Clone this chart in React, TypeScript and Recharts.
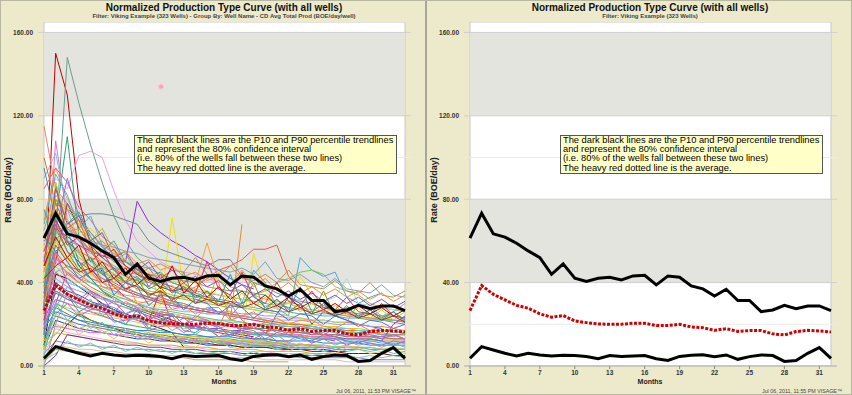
import React from "react";
import { LineChart, Line, XAxis, YAxis, ReferenceArea, ReferenceLine, ReferenceDot } from "recharts";

const FONT = "'Liberation Sans', Arial, sans-serif";
const _ = null;

// months on production (normalized)
const months = Array.from({ length: 32 }, (_v, i) => i + 1);
const monthTicks = [1, 4, 7, 10, 13, 16, 19, 22, 25, 28, 31];
const rateTicks = [0, 40, 80, 120, 160];

// percentile trendlines + average (BOE/day)
const p10Rate = [61.3, 73.3, 63.4, 61.8, 58.9, 55.2, 52, 44, 49, 42.1, 40.6, 42.1, 42.6, 41.3, 43.2, 43.5, 38.9, 43.2, 42.6, 38.4, 37, 33.6, 36.8, 31.4, 31.4, 26.1, 26.9, 29.1, 27.5, 28.8, 28.8, 26.6];
const p90Rate = [3.7, 9.3, 7.7, 6.1, 4.8, 6.1, 5.3, 4.8, 5.1, 5, 4.6, 3.5, 5, 4.5, 4.8, 5, 3.5, 2.7, 4.6, 5.1, 5.4, 4.5, 5.3, 3.2, 4.5, 5.3, 5, 2.2, 2.6, 6.1, 8.8, 3.7];
const avgRate = [26.6, 38.6, 34.4, 31.7, 29.1, 27.7, 25, 23.4, 24.2, 21.6, 20.8, 20.2, 20, 20, 20.5, 20.5, 19.4, 19.4, 20, 18.7, 18.4, 17.1, 17.9, 16.6, 17, 17, 15.4, 14.9, 16.5, 17.1, 16.8, 16.3];

// individual wells (a sample of the 323), shorter histories simply stop
const wellsHigh: (number | null)[][] = [
  [28, 150, 130, 80, 58, 45, 38, 33, 30, 26, 24, 22, 20, 19, 18, 17, 16, 15, 14],
  [20, 62, 148, 126, 106, 88, 72, 60, 52, 47, 44, 42, 41, 40, 38, 37, 36, 36, 35, 34, 30, 28],
  [72, 90, 85, 101, 103, 100, 84, 70, 60, 55, 50, 47, 45, 44, 42, 40],
  [40, 70, 110, 62, 55, 48, 44, 40, 38, 35, 33, 31, 30, 28, 27, 26, 25, 24, 23, 22, 21, 20, 20, 19, 18],
  [60, 66, 62, 58, 55, 53, 51, 50, 79, 69, 64, 60, 57, 53, 50, 46, 42, 39, 37],
  [45, 58, 50, 44, 40, 38, 35, 33, 31, 30, 29, 71, 38, 42, 35, 30, 26, 14, 54, 36, 30, 30, 43, 34, 28, 26, 27, 25, 22, 24, 22, 21],
  [50, 64, 60, 55, 52, 50, 47, 45, 44, 42, 40, 38, 37, 36, 44, 40, 22, 68],
  [35, 52, 48, 46, 42, 40, 38, 36, 34, 33, 32, 30, 35, 38, 42, 46, 48, 51, 56, 56, 58, 43, 37, 32, 29, 27, 25, 24, 23, 22, 21, 20],
  [30, 45, 40, 38, 36, 33, 31, 30, 28, 27, 26, 25, 24, 23, 28, 26, 24, 30, 46, 40, 28, 24, 52, 46, 43, 45, 33, 30, 33, 35],
  [55, 78, 75, 72, 73, 73, 72, 70, 68, 60, 56, 54, 52, 50, 48, 51, 51, 43, 40, 38, 35, 33, 31, 30, 28, 27, 26, 25, 25, 24, 24, 23],
  [70, 95, 80, 70, 62, 55, 50, 47, 45, 44, 43, 42, 41, 40, 59, 41, 38, 36, 34, 32, 31, 30, 28, 27, 26, 25, 24, 23, 23, 22, 22, 21],
  [25, 108, 70, 55, 45, 40, 36, 33, 30, 28, 26, 25, 24, 22, 21, 20, 19, 18, 18, 17],
  [40, 55, 60, 52, 48, 45, 42, 40, 38, 36, 35, 33, 32, 31, 30, 29, 28, 30, 34, 36, 40, 42, 45, 46, 44, 38, 36, 34, 30, 28, 27, 26],
  [20, 35, 40, 38, 36, 34, 33, 32, 30, 29, 28, 28, 27, 26, 25, 25, 24, 24, 25, 26, 28, 30, 32, 30, 31, 33, 42, 30, 29, 28, 27, 27],
  [10, 44, 42, 38, 34, 30, 27, 24, 22, 20, 18, 16, 9],
  [30, 60, 52, 48, 44, 40, 38, 36, 34, 33, 31, 30, 28, 27, 26, 25, 24, 24, 23, 22, 21, 21, 20, 20, 19, 19, 18, 18, 17, 17, 17, 16],
  [15, 88, 60, 48, 42, 36, 32, 29, 27, 25, 23, 21, 20, 19, 18, 17, 16, 16, 15, 15, 14],
  [90, 102, 75, 60, 52, 46, 42, 38, 35, 33, 31, 29, 28, 27, 26, 25, 24, 23, 22, 21, 20, 20, 19, 18, 18, 17, 17, 16, 16, 15, 15, 15],
  [115, 85, 70, 60, 55, 50, 46, 43, 40, 38, 36, 34, 33, 32, 31, 30, 29, 28, 27, 26, 25, 24],
  [95, 70, 60, 54, 48, 44, 40, 37, 35, 33, 31, 30, 28, 27, 26, 25],
  [65, 85, 78, 70, 64, 58, 54, 50, 47, 44, 42, 40, 38, 36, 35, 34, 33, 32, 31, 30, 29, 28, 27, 26, 25, 25, 24, 24, 23, 23, 22, 22],
  [62, 72, 66, 60, 56, 52, 48, 45, 42, 40, 38, 36, 34, 33, 32, 31, 30, 29, 28, 27, 26, 26, 25, 25, 24, 24, 23, 23, 22, 22, 22, 21],
  [48, 80, 70, 62, 55, 48, 44, 40, 37, 35, 33, 31, 29, 28, 27, 26, 25, 24, 23, 22, 21, 20, 20, 19, 18, 18, 17, 17, 16, 16, 15, 15],
  [58, 72, 66, 62, 60, 58, 57, 55, 54, 52, 51, 50, 49, 48, 47, 46, 45, 47, 44, 50, 42, 41, 44, 40, 38, 42, 37, 36, 35, 39, 34, 33],
  [52, 68, 60, 58, 54, 55, 52, 50, 48, 47, 49, 46, 45, 52, 44, 43, 48, 42, 41, 44, 40, 46, 39, 38, 37, 41, 36, 35, 40, 34, 33, 36],
];

// strong early producers with short histories
const wellsEarly: (number | null)[][] = [
  [85, 95, 88, 76, 70, 62, 58, 50, 46, 44, 40, 38],
  [68, 92, 82, 66, 72, 58, 50, 54, 44, 40, 42, 36, 34, 33],
  [40, 82, 75, 68, 60, 66, 55, 48, 45, 41, 39, 37, 35, 34, 33, 31],
  [100, 78, 66, 70, 56, 52, 47, 43, 41, 38],
  [30, 65, 90, 72, 64, 57, 52, 48, 44, 47, 40, 38, 36, 35, 33, 32, 31, 30],
  [75, 60, 68, 74, 62, 55, 60, 50, 46, 43, 45, 40, 38],
  [55, 88, 70, 64, 66, 60, 56, 51, 49, 45, 43, 41, 39, 37, 36, 34, 33, 32, 30, 29, 28],
  [22, 50, 78, 66, 58, 52, 56, 48, 44, 41, 38, 36, 37, 34, 32, 31, 30],
];

const wellsLow: (number | null)[][] = [
  [25, 40, 36, 34, 31, 29, 27, 25, 23, 22, 21, 20, 19, 18, 18, 17, 17, 16, 16, 15, 25, 33, 30, 20, 26, 24, 22, 20, 19, 18],
  [20, 30, 45, 40, 36, 33, 30, 28, 26, 24, 22, 21, 20, 19, 18, 17, 17, 16, 16, 15, 15, 14, 14, 13, 13, 12],
  [35, 48, 42, 38, 35, 32, 30, 28, 27, 26, 25, 24, 23, 23, 22, 22, 21, 21, 20, 20, 20, 19, 19, 19, 18, 18, 18, 17, 17, 17, 16, 16],
  [12, 28, 25, 22, 20, 19, 18, 17, 16, 15, 15, 14, 14, 13, 13, 12, 12, 12, 11, 11, 11, 10, 10, 10],
  [18, 36, 32, 30, 28, 26, 25, 24, 22, 21, 20, 20, 19, 18, 18, 17, 17, 16, 16, 15, 15, 15, 14, 14, 14, 13, 13, 13, 12, 12, 12, 12],
  [8, 22, 20, 18, 17, 16, 15, 14, 13, 13, 12, 12, 11, 11, 10, 10, 10, 9, 9, 9, 9, 8, 8, 8, 8, 7, 7],
  [40, 50, 45, 42, 40, 38, 36, 34, 33, 32, 31, 30, 29, 28, 27, 26, 26, 25, 25, 24, 24, 23, 23, 22, 22, 21, 21, 30, 28, 24, 26, 30],
  [22, 30, 28, 26, 25, 24, 23, 22, 21, 20, 19, 19, 18, 18, 17, 17, 16, 16, 16, 15, 15, 15, 14, 14, 14, 13, 13, 13, 13, 12, 12, 12],
  [30, 40, 35, 32, 30, 28, 26, 24, 23, 22, 36, 20, 19, 18, 17, 16, 15, 14, 13, 13, 12],
  [10, 25, 30, 28, 26, 24, 22, 20, 19, 18, 17, 16, 15, 14, 14, 13, 13, 12, 12, 12, 11, 11, 10, 10, 10, 9, 9, 9, 8, 8, 8, 8],
  [5, 18, 16, 15, 14, 13, 12, 12, 11, 10, 10, 9, 9, 9, 8, 8, 8, 7, 7, 7, 6, 6, 6, 6, 5, 5, 5],
  [28, 75, 65, 50, 42, 36, 33, 30, 28, 27, 25, 24, 23, 22, 21, 20, 20, 19, 18, 18, 17, 17, 16, 16, 15, 15, 15, 14, 14, 14, 13, 13],
  [12, 20, 18, 26, 22, 20, 19, 18, 17, 16, 15, 15, 14, 14, 13, 13, 12, 12, 12, 11, 11, 11, 10, 10, 10, 9, 9, 9],
  [6, 12, 11, 10, 10, 9, 9, 8, 8, 8, 7, 7, 7, 6, 6, 6, 6, 5, 5, 5, 5, 5, 4, 4, 4, 4, 4, 4, 3, 3, 3, 3],
  [50, 62, 58, 54, 50, 47, 44, 42, 40, 38, 36, 34, 33, 32, 31, 30, 29, 28, 27, 26, 25, 24, 23, 22, 22, 21, 21, 20],
  [3, 12, 20, 25, 22, 20, 18, 16, 15, 14, 13, 12, 12, 11, 11, 10, 10, 9, 9, 9, 8, 8, 8, 7, 7, 7, 6, 6, 6, 6, 5, 5],
  [35, 45, 48, 44, 40, 37, 34, 32, 30, 28, 27, 26, 25, 24, 23, 22, 22, 21, 20, 20, 19, 19, 18, 18, 17, 17, 16, 16, 16, 15, 15, 15],
  [22, 35, 32, 30, 28, 26, 25, 24, 23, 22, 21, 20, 19, 19, 18, 18, 17, 17, 16, 16, 15, 15, 15, 14, 14, 14, 13, 13, 13, 12, 20, 24],
  [2, 8, 7, 7, 6, 6, 5, 5, 5, 4, 4, 4, 4, 3, 3, 3, 3, 3, 2, 2, 2, 2],
  [45, 68, 55, 50, 46, 42, 39, 36, 34, 32, 30, 29, 28, 27, 26, 25, 24, 23, 22, 21],
  [18, 26, 24, 22, 21, 20, 19, 18, 17, 17, 16, 16, 15, 15, 14, 14, 14, 13, 13, 13, 12, 12, 12, 12, 11, 11, 11, 11, 10, 10, 10, 10],
  [8, 16, 15, 14, 13, 12, 12, 11, 11, 10, 10, 10, 9, 9, 9, 8, 8, 8, 8, 7, 7, 7, 7, 6, 6, 6],
  [4, 10, 9, 8, 8, 7, 7, 6, 6, 6, 5, 5, 5, 5, 4, 4, 4, 4, 4, 3, 3, 3, 3, 3, 3, 3, 2, 2, 2, 2, 2, 2],
  [14, 24, 22, 20, 19, 18, 17, 16, 15, 14, 14, 13, 13, 12, 12, 11, 11, 11, 10, 10, 10, 9, 9, 9, 9, 8, 8, 8],
  [26, 32, 30, 28, 26, 25, 24, 23, 22, 21, 20, 19, 19, 18, 18, 17, 17, 16, 16, 16, 15, 15, 15, 14, 14, 14],
  [9, 30, 27, 24, 22, 20, 18, 17, 16, 15, 14, 13, 13, 12, 12, 11, 11, 10, 10, 10, 9, 9],
  [33, 55, 47, 42, 38, 35, 32, 30, 28, 26, 25, 24, 23, 22, 21, 20, 19, 18, 18, 17, 17, 16, 16, 15, 15, 15, 14, 14, 14, 13, 13, 13],
  [0, 5, 15, 14, 13, 12, 11, 10, 10, 9, 9, 8, 8, 8, 7, 7, 7, 6, 6, 6, 6, 5, 5, 5, 5],
  [20, 28, 38, 33, 30, 28, 26, 24, 23, 22, 21, 20, 19, 18, 17, 17, 16, 16, 15, 15, 14, 14, 14, 13, 13, 13, 12, 12, 12, 11, 11, 11],
  [60, 48, 44, 40, 37, 34, 32, 30, 28, 27, 26, 25, 24, 23, 22, 21, 20, 20, 19, 19],
  [38, 42, 38, 36, 34, 32, 31, 30, 29, 28, 27, 27, 26, 26, 25, 25, 24, 24, 23, 23, 22, 22, 22, 21, 21, 20, 20, 20, 19, 19],
  [16, 19, 18, 17, 16, 16, 15, 15, 14, 14, 13, 13, 13, 12, 12, 12, 11, 11, 11, 11, 10, 10, 10, 10, 9, 9, 9, 9, 9, 8, 8, 8],
];

// jagged month-to-month wells that make up the dense middle of the bundle
const wellsNoisy: (number | null)[][] = [
  [30, 52, 44, 40, 46, 38, 37, 41, 30, 31, 34, 27, 29, 25, 28, 28, 22, 24, 26, 21, 23, 20, 22, 22, 19, 18, 21, 20, 17, 19, 18, 17],
  [15, 38, 34, 26, 29, 30, 22, 20, 27, 18, 22, 24, 17, 16, 20, 19, 14, 18, 17, 13, 16, 15, 13, 12, 15, 14, 12, 11, 13, 12, 10, 12],
  [45, 60, 50, 56, 44, 48, 40, 45, 36, 42, 34, 39, 32, 37, 30, 45, 29, 35, 28, 33, 27, 31, 26, 30, 25, 29, 24, 28, 23, 27, 22, 26],
  [0, 20, 35, 28, 32, 24, 27, 20, 25, 18, 22, 17, 20, 15, 19, 14, 17, 13, 16, 12, 15, 11, 14, 11, 13, 10, 12, 10, 11, 9, 11, 9],
  [55, 70, 58, 62, 50, 55, 46, 40, 48, 38, 44, 36, 40, 35, 50, 37, 34, 45, 33, 30, 40, 31, 29, 36, 28, 27, 33, 26, 25, 30, 24, 23],
  [38, 66, 55, 46, 52, 40, 44, 36, 42, 33, 38, 31, 45, 30, 36, 29, 34, 28, 40, 27, 32, 26, 30, 25, 36, 24, 29, 23, 27, 22, 26, 21],
  [20, 32, 30, 24, 27, 27, 21, 22, 24, 17, 19, 20, 16, 19, 18, 14, 15, 17, 13, 16, 12, 12, 15, 11, 13, 13, 10, 12, 11, 10, 12, 11],
  [8, 25, 22, 15, 19, 17, 13, 17, 15, 11, 14, 13, 10, 9, 13, 12, 9, 8, 11, 10, 8, 7, 10, 9, 7, 6, 9, 8, 6, 7, 8, 6],
  [62, 55, 60, 48, 52, 44, 47, 40, 43, 37, 40, 35, 38, 33, 36, 31, 44, 30, 34, 28, 32, 27, 38, 26, 30, 25, 28, 24, 27, 23, 26, 22],
  [25, 45, 40, 30, 35, 33, 26, 31, 28, 22, 26, 25, 20, 24, 22, 19, 30, 22, 18, 21, 20, 17, 19, 18, 15, 18, 16, 14, 17, 15, 14, 16],
  [50, 85, 68, 72, 60, 64, 52, 55, 46, 50, 42, 46, 40, 43, 38, 41, 36, 39, 34, 37, 33, 36, 32, 35, 31, 34, 30, 33, 29, 32, 28, 31],
  [12, 15, 22, 18, 20, 16, 18, 14, 16, 13, 15, 12, 14, 11, 13, 11, 12, 10, 12, 10, 11, 9, 11, 9, 10, 9, 10, 8, 9, 8, 9, 8],
  [35, 58, 50, 42, 45, 47, 34, 40, 38, 29, 34, 33, 27, 32, 30, 25, 29, 28, 23, 27, 26, 22, 25, 24, 20, 24, 22, 19, 22, 21, 18, 20],
  [70, 75, 64, 66, 58, 60, 53, 55, 49, 51, 46, 48, 43, 45, 41, 43, 39, 46, 38, 42, 36, 40, 35, 38, 34, 37, 33, 36, 32, 35, 31, 34],
  [5, 30, 22, 26, 18, 21, 15, 18, 13, 16, 12, 14, 11, 13, 10, 12, 9, 11, 9, 10, 8, 10, 8, 9, 7, 9, 7, 8, 7, 8, 6, 7],
  [42, 48, 52, 45, 47, 40, 42, 37, 39, 34, 36, 32, 34, 30, 32, 29, 31, 28, 30, 27, 29, 26, 28, 25, 27, 24, 26, 23, 25, 22, 24, 21],
  [28, 36, 33, 30, 27, 30, 28, 25, 27, 23, 24, 25, 20, 22, 22, 19, 21, 18, 20, 19, 16, 18, 17, 15, 17, 16, 14, 16, 15, 14, 15, 13],
  [18, 55, 40, 32, 36, 28, 31, 25, 28, 22, 25, 20, 23, 19, 21, 18, 20, 17, 19, 16, 18, 15, 17, 15, 16, 14, 16, 14, 15, 13, 15, 13],
  [3, 6, 12, 9, 11, 8, 10, 7, 9, 7, 8, 6, 8, 6, 7, 6, 7, 5, 7, 5, 6, 5, 6, 5, 6, 4, 5, 4, 5, 4, 5, 4],
  [48, 62, 52, 58, 45, 50, 42, 47, 39, 44, 37, 48, 35, 41, 33, 38, 32, 36, 30, 34, 29, 33, 28, 31, 27, 30, 26, 29, 25, 28, 24, 27],
];

const wellColors = [
  "#C00000", "#6A9E8E", "#E8A0F0", "#30A070", "#8A2BE2", "#F5E000", "#E88A30", "#E0604F",
  "#40A8E0", "#708898", "#F0A040", "#F070B0", "#90C040", "#A8E0C8", "#111111", "#FFC000",
  "#208040", "#80C0F0", "#F08070", "#5080A0", "#90A090", "#40C0B0", "#F07020", "#7FA0C0", "#C09050",
  "#E06090", "#50B0D0", "#A0C030", "#D07020", "#9070D0", "#30B080", "#F0D040", "#C03030",
  "#3050D0", "#C040A0", "#60D0E0", "#A06030", "#B0B040", "#3040A0", "#B090E0", "#F5B080",
  "#E02020", "#40B030", "#F8B0D0", "#2A9D9D", "#E8D020", "#9080C0", "#B0E040", "#901010",
  "#70C070", "#A040C0", "#D0A060", "#E04080", "#2080F0", "#D8B020", "#E0C0A0", "#6060E0",
  "#F09090", "#50B050", "#C07030", "#7030A0", "#30C0C0", "#E0E060", "#A0A0F0", "#F060F0",
  "#FF8040", "#4090D0", "#D0D020", "#80B0A0", "#E03060", "#60A040", "#B060E0", "#F0C060",
  "#20A0A0", "#E07090", "#9050B0", "#A0D060", "#5070E0", "#F09030", "#50C0E0", "#C02020",
  "#8080D0", "#D060C0", "#70D0A0",
];

const wells = [...wellsHigh, ...wellsEarly, ...wellsLow, ...wellsNoisy];

const rows = months.map((m, i) => {
  const row: Record<string, number | null> = { month: m, p10: p10Rate[i], p90: p90Rate[i], avg: avgRate[i] };
  wells.forEach((w, j) => {
    row[`w${j}`] = w[i] ?? _;
  });
  return row;
});

const noteLines = [
  "The dark black lines are the P10 and P90 percentile trendlines",
  "and represent the 80% confidence interval",
  "(i.e. 80% of the wells fall between these two lines)",
  "The heavy red dotted line is the average.",
];

const tickStyle = { fontSize: 6.5, fontWeight: "bold", fill: "#333", fontFamily: FONT };

function Panel({ showWells, subtitle, stamp, left }: { showWells: boolean; subtitle: string; stamp: string; left: number }) {
  return (
    <div style={{ position: "absolute", left, top: 0, width: 426, height: 395 }}>
      <LineChart width={426} height={395} data={rows} margin={{ top: 22, right: 15, bottom: 0, left: 0 }}>
        <XAxis
          dataKey="month"
          type="number"
          domain={[1, 32]}
          ticks={monthTicks}
          padding={{ left: 6, right: 6 }}
          height={29}
          tick={tickStyle}
          tickSize={3}
          tickMargin={1}
          axisLine={{ stroke: "#A8A8A8" }}
          tickLine={{ stroke: "#888" }}
        />
        <YAxis
          type="number"
          domain={[0, 165]}
          ticks={rateTicks}
          width={38}
          tick={tickStyle}
          tickFormatter={(v: number) => v.toFixed(2)}
          tickSize={3}
          tickMargin={2}
          axisLine={false}
          tickLine={false}
        />
        {/* plot background + bands */}
        <ReferenceArea y1={0} y2={165} fill="#FFFFFF" fillOpacity={1} stroke="#C8C8C8" ifOverflow="hidden" />
        <ReferenceArea y1={40} y2={80} fill="#E4E4DF" fillOpacity={1} stroke="none" />
        <ReferenceArea y1={120} y2={160} fill="#E4E4DF" fillOpacity={1} stroke="none" />
        {[20, 100].map((v) => (
          <ReferenceLine key={v} y={v} stroke="#EBEBEB" strokeWidth={1} />
        ))}
        {[40, 80, 120, 160].map((v) => (
          <ReferenceLine key={v} y={v} stroke="#CFCFCF" strokeWidth={1} />
        ))}
        {showWells && <ReferenceDot x={11.05} y={134} r={2.5} fill="#F4A6B8" stroke="#F8C8D4" />}
        {showWells &&
          wells.map((_w, j) => (
            <Line
              key={j}
              type="linear"
              dataKey={`w${j}`}
              stroke={wellColors[j % wellColors.length]}
              strokeWidth={1}
              dot={false}
              activeDot={false}
              isAnimationActive={false}
            />
          ))}
        <Line type="linear" dataKey="p10" stroke="#000" strokeWidth={3} dot={false} activeDot={false} isAnimationActive={false} />
        <Line type="linear" dataKey="p90" stroke="#000" strokeWidth={3} dot={false} activeDot={false} isAnimationActive={false} />
        <Line type="linear" dataKey="avg" stroke="#D00000" strokeWidth={3} strokeDasharray="3 1.5" dot={false} activeDot={false} isAnimationActive={false} />
      </LineChart>

      <div style={{ position: "absolute", left: 0, width: 448, top: 2, textAlign: "center", fontSize: 10, fontWeight: "bold", color: "#111", lineHeight: "11px" }}>
        Normalized Production Type Curve (with all wells)
      </div>
      <div style={{ position: "absolute", left: 0, width: 448, top: 13, textAlign: "center", fontSize: 6, fontWeight: "bold", color: "#444", lineHeight: "7px" }}>
        {subtitle}
      </div>
      <div
        style={{
          position: "absolute", left: 8, top: 190, transform: "translate(-50%, -50%) rotate(-90deg)",
          fontSize: 9, fontWeight: "bold", color: "#222", whiteSpace: "nowrap",
        }}
      >
        Rate (BOE/day)
      </div>
      <div style={{ position: "absolute", left: 0, width: 448, top: 378, textAlign: "center", fontSize: 7, fontWeight: "bold", color: "#222", lineHeight: "8px" }}>
        Months
      </div>
      <div style={{ position: "absolute", left: 336, top: 388, fontSize: 5.3, color: "#444", whiteSpace: "nowrap", lineHeight: "6px" }}>
        {stamp}
      </div>
      <div
        style={{
          position: "absolute", left: 134, top: 135, width: 259, height: 37, background: "#FFFFC8",
          border: "1px solid #555", fontSize: 9.3, lineHeight: "9.2px", color: "#000", paddingLeft: 2, whiteSpace: "nowrap",
        }}
      >
        {noteLines.map((t) => (
          <div key={t}>{t}</div>
        ))}
      </div>
    </div>
  );
}

export default function App() {
  return (
    <div style={{ position: "fixed", left: 0, top: 0, width: 852, height: 395, background: "#ECEACB", fontFamily: FONT, overflow: "hidden" }}>
      <Panel showWells left={0} stamp="Jul 06, 2011, 11:53 PM  VISAGE™" subtitle="Filter: Viking Example (323 Wells) - Group By: Well Name - CD Avg Total Prod (BOE/day/well)" />
      <Panel showWells={false} left={426} stamp="Jul 06, 2011, 11:55 PM  VISAGE™" subtitle="Filter: Viking Example (323 Wells)" />
      <div style={{ position: "absolute", left: 425, top: 0, width: 2, height: 395, background: "#A8A898" }} />
      <div style={{ position: "absolute", left: 0, top: 0, width: 850, height: 393, border: "1px solid #B8B8A0" }} />
    </div>
  );
}
